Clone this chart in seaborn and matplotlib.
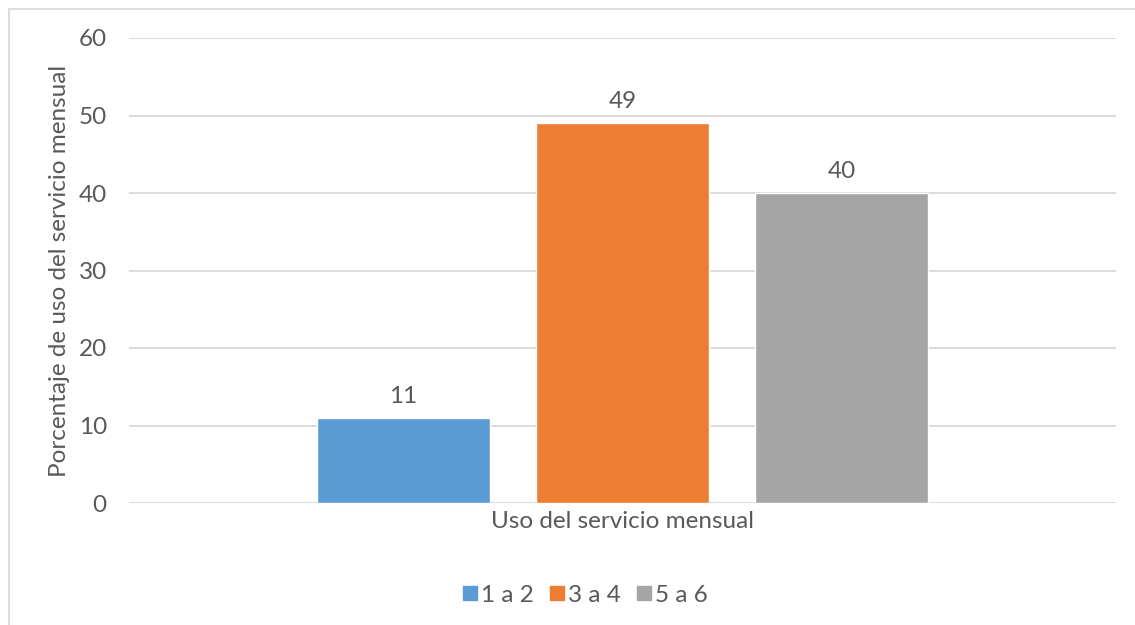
import matplotlib
matplotlib.use("Agg")
import matplotlib.pyplot as plt
import seaborn as sns
import pandas as pd
from matplotlib.lines import Line2D

# Data
categoria = ["Uso del servicio mensual"]
grupos = ["1 a 2", "3 a 4", "5 a 6"]
porcentajes = [11, 49, 40]
colores = ["#5B9BD5", "#ED7D31", "#A5A5A5"]
y_ticks = [0, 10, 20, 30, 40, 50, 60]

df = pd.DataFrame({
    "cat": categoria * len(grupos),
    "grupo": grupos,
    "valor": porcentajes,
})

sns.set_theme(style="white")
plt.rcParams["font.family"] = ["Lato", "DejaVu Sans"]
texto = "#595959"
rejilla = "#D9D9D9"
fs = 17.5

fig = plt.figure(figsize=(11.35, 6.25), dpi=100)
ax = fig.add_axes([0.1137, 0.1952, 0.8696, 0.744])

sns.barplot(data=df, x="cat", y="valor", hue="grupo", palette=colores,
            width=0.666, gap=0.21, saturation=1, ax=ax, legend=False,
            zorder=3)

ax.set_ylim(0, 60)
ax.set_xlim(-0.5, 0.5)
ax.set_yticks(y_ticks)
ax.set_yticklabels([str(t) for t in y_ticks])
ax.yaxis.grid(True, color=rejilla, linewidth=1.3, zorder=0)
ax.set_axisbelow(True)
for s in ax.spines.values():
    s.set_visible(False)
ax.tick_params(axis="y", length=0, pad=16, labelsize=fs, labelcolor=texto)
ax.tick_params(axis="x", length=0)
ax.set_xticklabels([])
ax.set_xlabel("Uso del servicio mensual", fontsize=fs, color=texto, labelpad=2)
ax.set_ylabel("Porcentaje de uso del servicio mensual", fontsize=fs,
              color=texto, labelpad=6.5)

for cont in ax.containers:
    ax.bar_label(cont, labels=[f"{v:g}" for v in cont.datavalues],
                 padding=8, fontsize=fs, color=texto)

handles = [Line2D([0], [0], marker="s", linestyle="none", markersize=10,
                  markerfacecolor=c, markeredgecolor=c) for c in colores]
fig.legend(handles, grupos, loc="center", bbox_to_anchor=(0.515, 0.048),
           ncol=3, frameon=False, fontsize=fs, labelcolor=texto,
           handletextpad=0.1, columnspacing=0.6, handlelength=0.7)

# Chart-area border (left and top edges)
fig.add_artist(Line2D([0.0075, 0.0075], [0, 0.986], transform=fig.transFigure,
                      color="#D9D9D9", linewidth=1.3))
fig.add_artist(Line2D([0.0075, 1.0], [0.986, 0.986], transform=fig.transFigure,
                      color="#D9D9D9", linewidth=1.3))

fig.savefig("out.png", dpi=100, facecolor="white")
